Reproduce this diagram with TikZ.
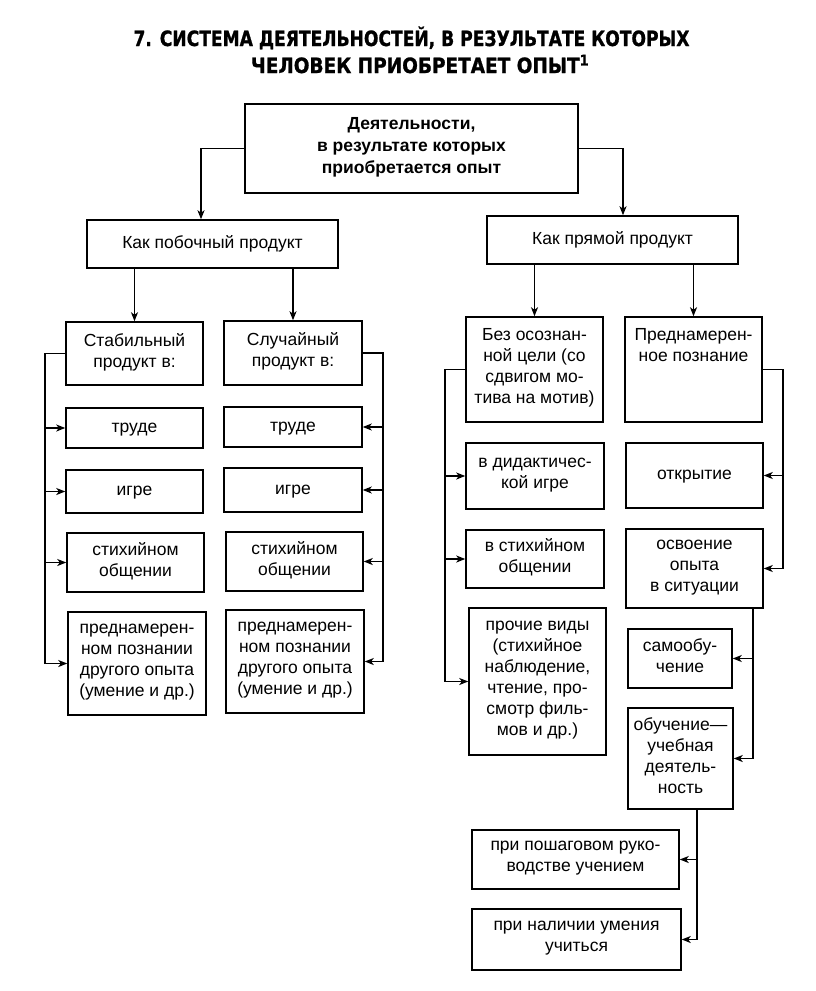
\documentclass[tikz,border=0pt]{standalone}
\usepackage{fontspec}
\setmainfont{Liberation Sans}
\newfontfamily\headfont[FakeBold=1.2]{DejaVu Sans}
\usetikzlibrary{calc,arrows.meta}

\begin{document}
\begin{tikzpicture}[x=1pt,y=-1pt,
	box/.style={draw,line width=1.5pt,inner sep=1pt,align=center,font=\fontsize{17.5}{21}\selectfont,
		execute at begin node=\strut,execute at end node=\strut},
	arr/.style={-{Stealth[length=9pt,width=7pt,inset=2.5pt]},line width=1.3pt},
	ln/.style={line width=1.3pt},
	head/.style={anchor=base,inner sep=0pt,font=\headfont\bfseries\fontsize{21}{26}\selectfont}]
	\fill[white] (0,0) rectangle (816,991);
	\node[head] (title1) at (411.5,46) {\scalebox{0.815}[1]{7. СИСТЕМА ДЕЯТЕЛЬНОСТЕЙ, В РЕЗУЛЬТАТЕ КОТОРЫХ}};
	\node[head] (title2) at (420,73) {\scalebox{0.88}[1]{ЧЕЛОВЕК ПРИОБРЕТАЕТ ОПЫТ\textsuperscript{1}}};
	\node[box,minimum width=333pt,minimum height=89pt,font=\fontsize{17.5}{22}\selectfont\bfseries] (top) at (411.5,148.5) {Деятельности,\\в результате которых\\приобретается опыт};
	\node[box,minimum width=251pt,minimum height=48pt] (side) at (212.5,244) {Как побочный продукт};
	\node[box,minimum width=251pt,minimum height=48pt] (direct) at (612.5,240) {Как прямой продукт};
	\draw[arr] (top.west) -| ([xshift=-11.5pt]side.north);
	\draw[arr] (top.east) -| ([xshift=10.5pt]direct.north);

	\node[box,minimum width=137pt,minimum height=63pt] (stab) at (134.5,353.5) {Стабильный\\продукт в:};
	\node[box,minimum width=138pt,minimum height=64pt] (rand) at (293,353) {Случайный\\продукт в:};
	\draw[arr] (stab.north |- side.south) -- (stab.north);
	\draw[arr] (rand.north |- side.south) -- (rand.north);

	\node[box,minimum width=137pt,minimum height=40pt] (L1) at (134.5,428) {труде};
	\node[box,minimum width=137pt,minimum height=43pt] (L2) at (134.5,491.5) {игре};
	\node[box,minimum width=137pt,minimum height=59pt] (L3) at (135.5,562.5) {стихийном\\общении};
	\node[box,minimum width=138pt,minimum height=103pt] (L4) at (137,663.5) {преднамерен-\\ном познании\\другого опыта\\(умение и др.)};
	\node[box,minimum width=138pt,minimum height=40pt] (R1) at (293,427) {труде};
	\node[box,minimum width=138pt,minimum height=44pt] (R2) at (293,490) {игре};
	\node[box,minimum width=137pt,minimum height=59pt] (R3) at (294.5,561.5) {стихийном\\общении};
	\node[box,minimum width=138pt,minimum height=103pt] (R4) at (295,661.5) {преднамерен-\\ном познании\\другого опыта\\(умение и др.)};

	\coordinate (lbus) at (45,0);
	\coordinate (rbus) at (383,0);
	\draw[ln] (stab.west) -- (lbus |- stab.west) -- (lbus |- L4.west);
	\draw[ln] (rand.east) -- (rbus |- rand.east) -- (rbus |- R4.east);
	\foreach \n in {L1,L2,L3,L4}
		\draw[arr] (lbus |- \n.west) -- (\n.west);
	\foreach \n in {R1,R2,R3,R4}
		\draw[arr] (rbus |- \n.east) -- (\n.east);

	\node[box,minimum width=137pt,minimum height=105pt] (nogoal) at (534.5,369.5) {Без осознан-\\ной цели (со\\сдвигом мо-\\тива на мотив)};
	\node[box,minimum width=137pt,minimum height=105pt] (intent) at (693.5,369.5) {Преднамерен-\\ное познание\\\mbox{}\\\mbox{}};
	\draw[arr] (nogoal.north |- direct.south) -- (nogoal.north);
	\draw[arr] (intent.north |- direct.south) -- (intent.north);

	\node[box,minimum width=138pt,minimum height=66pt] (didact) at (535,476) {в дидактичес-\\кой игре};
	\node[box,minimum width=138pt,minimum height=58pt] (spont) at (535,559) {в стихийном\\общении};
	\node[box,minimum width=137pt,minimum height=147pt] (other) at (537.5,681.5) {прочие виды\\(стихийное\\наблюдение,\\чтение, про-\\смотр филь-\\мов и др.)};
	\node[box,minimum width=137pt,minimum height=65pt] (open) at (694.5,475.5) {открытие};
	\node[box,minimum width=137pt,minimum height=79pt] (master) at (694.5,568.5) {освоение\\опыта\\в ситуации};
	\node[box,minimum width=104pt,minimum height=59pt] (self) at (680,658.5) {самообу-\\чение};
	\node[box,minimum width=105pt,minimum height=101pt] (study) at (680.5,758.5) {обучение—\\учебная\\деятель-\\ность};
	\node[box,minimum width=207pt,minimum height=59pt] (stepw) at (575.5,859.5) {при пошаговом руко-\\водстве учением};
	\node[box,minimum width=209pt,minimum height=61pt] (skill) at (576.5,939.5) {при наличии умения\\учиться};

	\coordinate (mbus) at (445,0);
	\coordinate (ebus) at (783,0);
	\coordinate (sbus) at (753,0);
	\coordinate (tbus) at (697,0);
	\draw[ln] (nogoal.west) -- (mbus |- nogoal.west) -- (mbus |- other.west);
	\foreach \n in {didact,spont,other}
		\draw[arr] (mbus |- \n.west) -- (\n.west);
	\draw[ln] (intent.east) -- (ebus |- intent.east) -- (ebus |- master.east);
	\foreach \n in {open,master}
		\draw[arr] (ebus |- \n.east) -- (\n.east);
	\draw[ln] (sbus |- master.south) -- (sbus |- study.east);
	\foreach \n in {self,study}
		\draw[arr] (sbus |- \n.east) -- (\n.east);
	\draw[ln] (tbus |- study.south) -- (tbus |- skill.east);
	\foreach \n in {stepw,skill}
		\draw[arr] (tbus |- \n.east) -- (\n.east);
\end{tikzpicture}
\end{document}
